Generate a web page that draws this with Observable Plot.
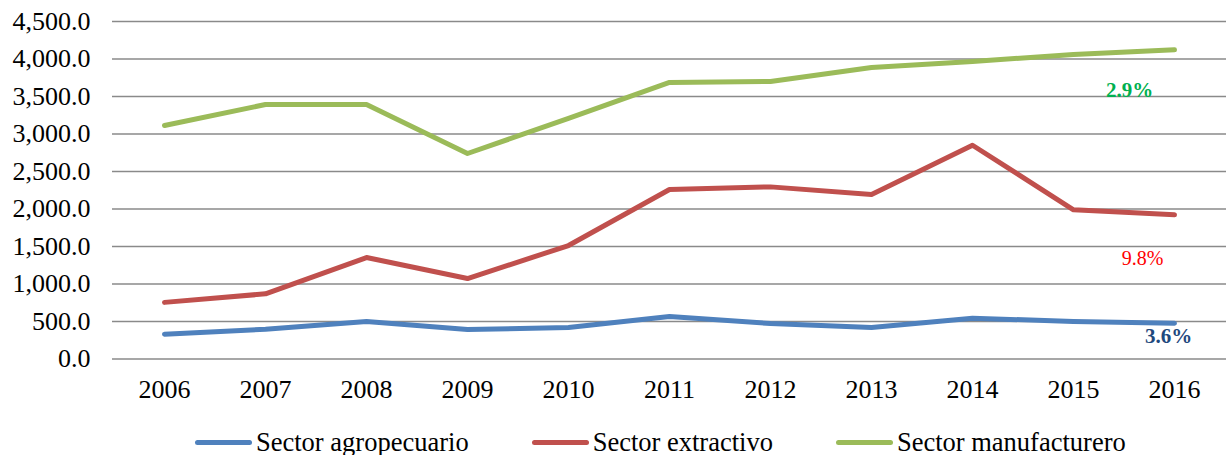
<!DOCTYPE html>
<html>
<head>
<meta charset="utf-8">
<script src="https://cdn.jsdelivr.net/npm/d3@7"></script>
<script src="https://cdn.jsdelivr.net/npm/@observablehq/plot@0.6"></script>
</head>
<body style="margin:0;background:#fff;font-family:'Liberation Serif';">
<div id="chart"></div>
<div id="legend"></div>
<script>
const years = ["2006","2007","2008","2009","2010","2011","2012","2013","2014","2015","2016"];
const seriesNames = ["Sector agropecuario", "Sector extractivo", "Sector manufacturero"];
const seriesColors = ["#4F81BD", "#C0504D", "#9BBB59"];
const agropecuario = [331, 397, 500, 393, 420, 567, 473, 420, 544, 500, 477];
const extractivo = [755, 869, 1353, 1073, 1513, 2260, 2295, 2193, 2850, 1989, 1923];
const manufacturero = [3113, 3393, 3393, 2740, 3207, 3687, 3700, 3887, 3967, 4060, 4123];
const yTicks = [0, 500, 1000, 1500, 2000, 2500, 3000, 3500, 4000, 4500];
const annoLabels = ["3.6%", "9.8%", "2.9%"];
const annoY = [300, 1340, 3587];
const annoColors = ["#1F497D", "#FF0000", "#00B050"];
const annoWeights = ["bold", "normal", "bold"];
const annoSizes = [21, 20, 21];
const annoDx = [-6, -32, -45];

const FONT = "Liberation Serif";

const allValues = [agropecuario, extractivo, manufacturero];
const rows = [];
seriesNames.forEach((s, i) => years.forEach((yr, j) => rows.push({series: s, year: yr, value: allValues[i][j]})));

const annos = annoLabels.map((t, i) => ({text: t, year: years[years.length - 1], value: annoY[i], color: annoColors[i], weight: annoWeights[i], size: annoSizes[i], dx: annoDx[i]}));

const plot = Plot.plot({
  width: 1226,
  height: 412,
  marginTop: 21,
  marginBottom: 53.5,
  marginLeft: 112,
  marginRight: 0,
  style: { fontFamily: FONT, fontSize: "26px", color: "#000", background: "#fff", overflow: "visible" },
  x: { type: "point", domain: years, padding: 0.475, label: null, tickSize: 0, tickPadding: 21 },
  y: { domain: [0, 4500], ticks: yTicks, tickFormat: d3.format(",.1f"), label: null, tickSize: 0, tickPadding: 22 },
  color: { domain: seriesNames, range: seriesColors },
  marks: [
    Plot.ruleY(yTicks, { stroke: "#8a8a8a", strokeWidth: 1.6 }),
    Plot.line(rows, { x: "year", y: "value", z: "series", stroke: "series", strokeWidth: 5, strokeLinecap: "round", strokeLinejoin: "round" }),
    ...annos.map(a => Plot.text([a], { x: "year", y: "value", text: "text", fill: a.color, fontWeight: a.weight, dx: a.dx, fontSize: a.size, fontFamily: FONT }))
  ]
});
document.getElementById("chart").appendChild(plot);
d3.select(plot).selectAll("g, text").attr("font-family", FONT).style("font-family", FONT);

const legend = document.getElementById("legend");
legend.style.display = "flex";
legend.style.alignItems = "center";
legend.style.paddingLeft = "195px";
legend.style.marginTop = "15px";
legend.style.height = "30px";
legend.style.fontSize = "26.5px";
legend.style.color = "#000";
legend.style.fontFamily = FONT;
seriesNames.forEach((s, i) => {
  const it = document.createElement("div");
  it.style.display = "flex";
  it.style.alignItems = "center";
  it.style.marginRight = "63px";
  const sw = document.createElement("div");
  sw.style.width = "57px";
  sw.style.height = "5px";
  sw.style.borderRadius = "3px";
  sw.style.marginRight = "4px";
  sw.style.background = seriesColors[i];
  const lab = document.createElement("span");
  lab.style.fontFamily = FONT;
  lab.style.fontSize = "26.5px";
  lab.style.whiteSpace = "nowrap";
  lab.textContent = s;
  it.appendChild(sw);
  it.appendChild(lab);
  legend.appendChild(it);
});
</script>
</body>
</html>
